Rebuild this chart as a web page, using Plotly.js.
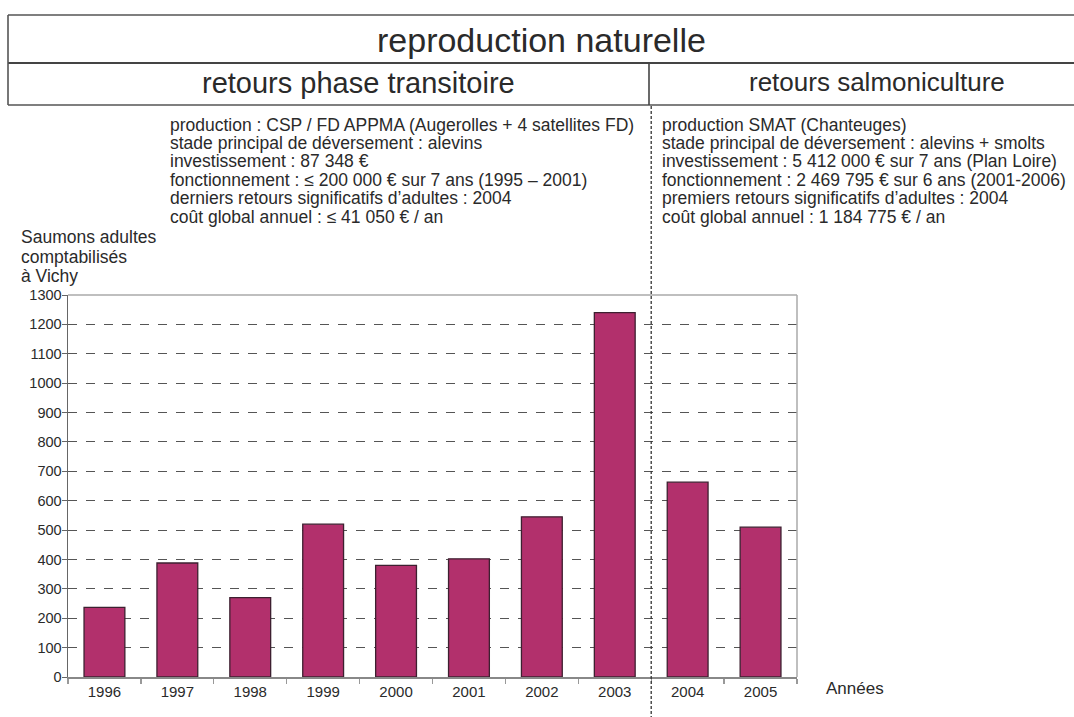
<!DOCTYPE html>
<html>
<head>
<meta charset="utf-8">
<script src="https://cdn.plot.ly/plotly-3.0.1.min.js"></script>
<style>html,body{margin:0;padding:0;background:#fff}#chart{width:1074px;height:717px}</style>
</head>
<body>
<div id="chart"></div>
<script>
// ---- data ----
const years = ['1996','1997','1998','1999','2000','2001','2002','2003','2004','2005'];
const salmonCounts = [237, 388, 270, 520, 380, 402, 545, 1240, 663, 510];
const yTicks = [0,100,200,300,400,500,600,700,800,900,1000,1100,1200,1300];

const mainTitle = 'reproduction naturelle';
const leftHeader = 'retours phase transitoire';
const rightHeader = 'retours salmoniculture';
const leftInfo = [
  'production : CSP / FD APPMA (Augerolles + 4 satellites FD)',
  'stade principal de déversement : alevins',
  'investissement : 87 348 €',
  'fonctionnement : ≤ 200 000 € sur 7 ans (1995 – 2001)',
  'derniers retours significatifs d’adultes : 2004',
  'coût global annuel : ≤ 41 050 € / an'
];
const rightInfo = [
  'production SMAT (Chanteuges)',
  'stade principal de déversement : alevins + smolts',
  'investissement : 5 412 000 € sur 7 ans (Plan Loire)',
  'fonctionnement : 2 469 795 € sur 6 ans (2001-2006)',
  'premiers retours significatifs d’adultes : 2004',
  'coût global annuel : 1 184 775 € / an'
];
const yTitleLines = ['Saumons adultes','comptabilisés','à Vichy'];
const xTitle = 'Années';

// ---- layout helpers (pixel -> paper) ----
const W = 1074, H = 717, L = 68, R = 797, T = 295, B = 677;
const px = x => (x - L) / (R - L);
const py = y => (B - y) / (B - T);
const FONT = 'Liberation Sans, Arial, sans-serif';
const TXT = '#2a2a2a';

const annotations = [];
annotations.push({xref:'paper', yref:'paper', x:px(541), y:py(40), text:mainTitle, showarrow:false,
  xanchor:'center', yanchor:'middle', font:{family:FONT, size:34, color:TXT}});
annotations.push({xref:'paper', yref:'paper', x:px(358), y:py(83), text:leftHeader, showarrow:false,
  xanchor:'center', yanchor:'middle', font:{family:FONT, size:29, color:TXT}});
annotations.push({xref:'paper', yref:'paper', x:px(877), y:py(82), text:rightHeader, showarrow:false,
  xanchor:'center', yanchor:'middle', font:{family:FONT, size:26, color:TXT}});

const infoY = [125, 143, 161, 180, 198, 217];
leftInfo.forEach((t, i) => annotations.push({xref:'paper', yref:'paper', x:px(168), y:py(infoY[i]), text:t,
  showarrow:false, xanchor:'left', yanchor:'middle', font:{family:FONT, size:17.5, color:TXT}}));
rightInfo.forEach((t, i) => annotations.push({xref:'paper', yref:'paper', x:px(660), y:py(infoY[i]), text:t,
  showarrow:false, xanchor:'left', yanchor:'middle', font:{family:FONT, size:17.5, color:TXT}}));

const yTitleY = [237, 257, 276];
yTitleLines.forEach((t, i) => annotations.push({xref:'paper', yref:'paper', x:px(19), y:py(yTitleY[i]), text:t,
  showarrow:false, xanchor:'left', yanchor:'middle', font:{family:FONT, size:17.5, color:TXT}}));

annotations.push({xref:'paper', yref:'paper', x:px(824), y:py(688), text:xTitle, showarrow:false,
  xanchor:'left', yanchor:'middle', font:{family:FONT, size:17, color:TXT}});

const lineC = '#555';
const shapes = [
  // table frame
  {type:'line', xref:'paper', yref:'paper', x0:px(8), x1:px(1074), y0:py(15), y1:py(15), line:{color:lineC, width:1.6}},
  {type:'line', xref:'paper', yref:'paper', x0:px(8), x1:px(1074), y0:py(63), y1:py(63), line:{color:'#444', width:2}},
  {type:'line', xref:'paper', yref:'paper', x0:px(8), x1:px(1074), y0:py(105), y1:py(105), line:{color:lineC, width:1.6}},
  {type:'line', xref:'paper', yref:'paper', x0:px(8), x1:px(8), y0:py(15), y1:py(105), line:{color:lineC, width:1.6}},
  {type:'line', xref:'paper', yref:'paper', x0:px(649), x1:px(649), y0:py(63), y1:py(105), line:{color:'#444', width:1.6}},
  // plot frame (top and right)
  {type:'line', xref:'paper', yref:'paper', x0:0, x1:1, y0:1, y1:1, line:{color:'#aaa', width:1.5}},
  {type:'line', xref:'paper', yref:'paper', x0:1, x1:1, y0:0, y1:1, line:{color:'#aaa', width:1.5}},
  // dashed separator between 2003 and 2004
  {type:'line', xref:'x', yref:'paper', x0:7.5, x1:7.5, y0:py(106), y1:py(717), layer:'above',
    line:{color:'#333', width:1.3, dash:'3px,2px'}}
];

const trace = {
  type:'bar', x:years, y:salmonCounts,
  marker:{color:'#b2306c', line:{color:'#3d2030', width:1.3}},
  hoverinfo:'x+y'
};

const layout = {
  width:W, height:H,
  margin:{l:L, r:W-R, t:T, b:H-B, pad:0},
  paper_bgcolor:'#fff', plot_bgcolor:'#fff',
  showlegend:false,
  bargap:0.44,
  font:{family:FONT, color:TXT},
  xaxis:{type:'category', categoryorder:'array', categoryarray:years,
    showline:true, linecolor:'#888', linewidth:1.5,
    ticks:'outside', tickson:'boundaries', ticklen:5, tickcolor:'#999', tickwidth:1.2,
    showgrid:false, tickfont:{family:FONT, size:15, color:TXT}, fixedrange:true},
  yaxis:{range:[0,1300], tickvals:yTicks, ticktext:yTicks.map(String),
    showline:true, linecolor:'#666', linewidth:1.5,
    ticks:'outside', ticklen:5, tickcolor:'#666', ticklabelstandoff:-3,
    showgrid:true, gridcolor:'#555', gridwidth:1, griddash:'dash', zeroline:false,
    tickfont:{family:FONT, size:14.5, color:TXT}, fixedrange:true},
  annotations, shapes
};

Plotly.newPlot('chart', [trace], layout, {staticPlot:true, displayModeBar:false});
</script>
</body>
</html>
